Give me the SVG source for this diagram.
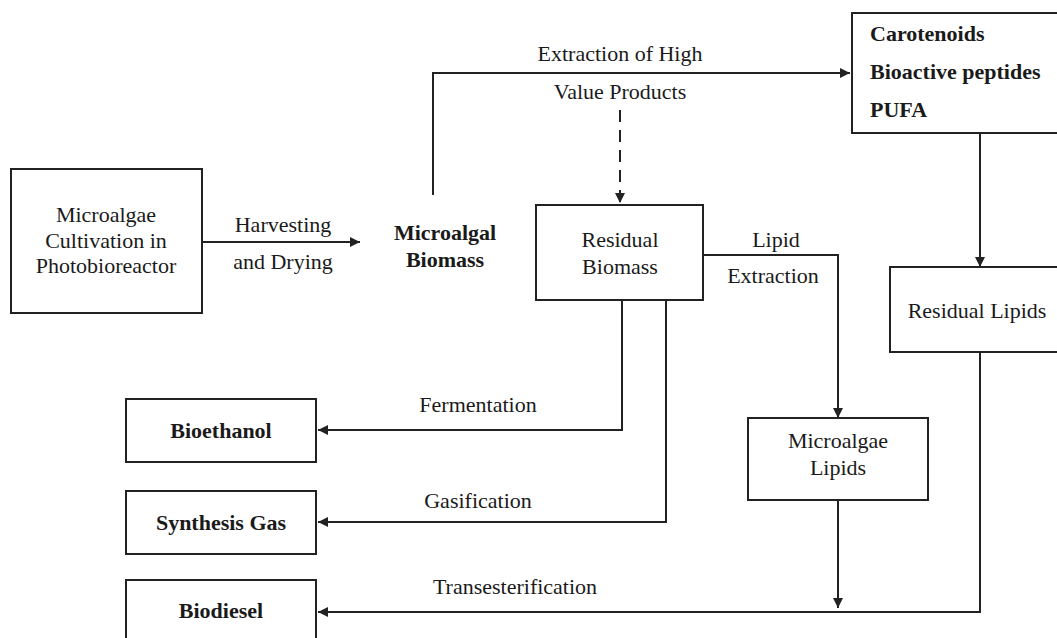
<svg xmlns="http://www.w3.org/2000/svg" width="1057" height="638" viewBox="0 0 1057 638">
<style>
.box{fill:#fff;stroke:#222;stroke-width:2}
.ln{fill:none;stroke:#222;stroke-width:2}
.t{font-family:"Liberation Serif","Times New Roman",serif;font-size:22px;fill:#1a1a1a;text-anchor:middle}
.b{font-weight:bold}
.l{text-anchor:start}
</style>
<defs>
<marker id="ah" markerWidth="12" markerHeight="12" refX="10" refY="5" orient="auto" markerUnits="userSpaceOnUse">
<path d="M0,0 L10,5 L0,10 z" fill="#222"/>
</marker>
</defs>
<rect width="1057" height="638" fill="#fff"/>
<g id="connectors">
<path class="ln" d="M202,242 H360" marker-end="url(#ah)"/>
<path class="ln" d="M433,195 V73 H850" marker-end="url(#ah)"/>
<path class="ln" d="M620,110 V203" stroke-dasharray="12,8" marker-end="url(#ah)"/>
<path class="ln" d="M703,255 H838 V418" marker-end="url(#ah)"/>
<path class="ln" d="M980,133 V267" marker-end="url(#ah)"/>
<path class="ln" d="M980,352 V612 H318" marker-end="url(#ah)"/>
<path class="ln" d="M838,500 V608" marker-end="url(#ah)"/>
<path class="ln" d="M622,300 V430 H318" marker-end="url(#ah)"/>
<path class="ln" d="M666,300 V522 H318" marker-end="url(#ah)"/>
<text class="t" x="283" y="232">Harvesting</text>
<text class="t" x="283" y="269">and Drying</text>
<text class="t" x="620" y="61">Extraction of High</text>
<text class="t" x="620" y="99">Value Products</text>
<text class="t" x="776" y="247">Lipid</text>
<text class="t" x="773" y="283">Extraction</text>
<text class="t" x="478" y="412">Fermentation</text>
<text class="t" x="478" y="508">Gasification</text>
<text class="t" x="515" y="594">Transesterification</text>
</g>
<g id="cultivation">
<rect class="box" x="11" y="169" width="191" height="144"/>
<text class="t" x="106" y="222">Microalgae</text>
<text class="t" x="106" y="248">Cultivation in</text>
<text class="t" x="106" y="273">Photobioreactor</text>
</g>
<g id="biomass">
<text class="t b" x="445" y="240">Microalgal</text>
<text class="t b" x="445" y="267">Biomass</text>
</g>
<g id="products">
<rect class="box" x="852" y="13" width="220" height="120"/>
<text class="t b l" x="870" y="41">Carotenoids</text>
<text class="t b l" x="870" y="79">Bioactive peptides</text>
<text class="t b l" x="870" y="117">PUFA</text>
</g>
<g id="residual-biomass">
<rect class="box" x="536" y="205" width="167" height="95"/>
<text class="t" x="620" y="247">Residual</text>
<text class="t" x="620" y="274">Biomass</text>
</g>
<g id="residual-lipids">
<rect class="box" x="890" y="267" width="180" height="85"/>
<text class="t" x="977" y="318">Residual Lipids</text>
</g>
<g id="microalgae-lipids">
<rect class="box" x="748" y="418" width="180" height="82"/>
<text class="t" x="838" y="448">Microalgae</text>
<text class="t" x="838" y="475">Lipids</text>
</g>
<g id="bioethanol">
<rect class="box" x="126" y="399" width="190" height="63"/>
<text class="t b" x="221" y="438">Bioethanol</text>
</g>
<g id="synthesis-gas">
<rect class="box" x="126" y="491" width="190" height="63"/>
<text class="t b" x="221" y="530">Synthesis Gas</text>
</g>
<g id="biodiesel">
<rect class="box" x="126" y="580" width="190" height="70"/>
<text class="t b" x="221" y="618">Biodiesel</text>
</g>
</svg>
